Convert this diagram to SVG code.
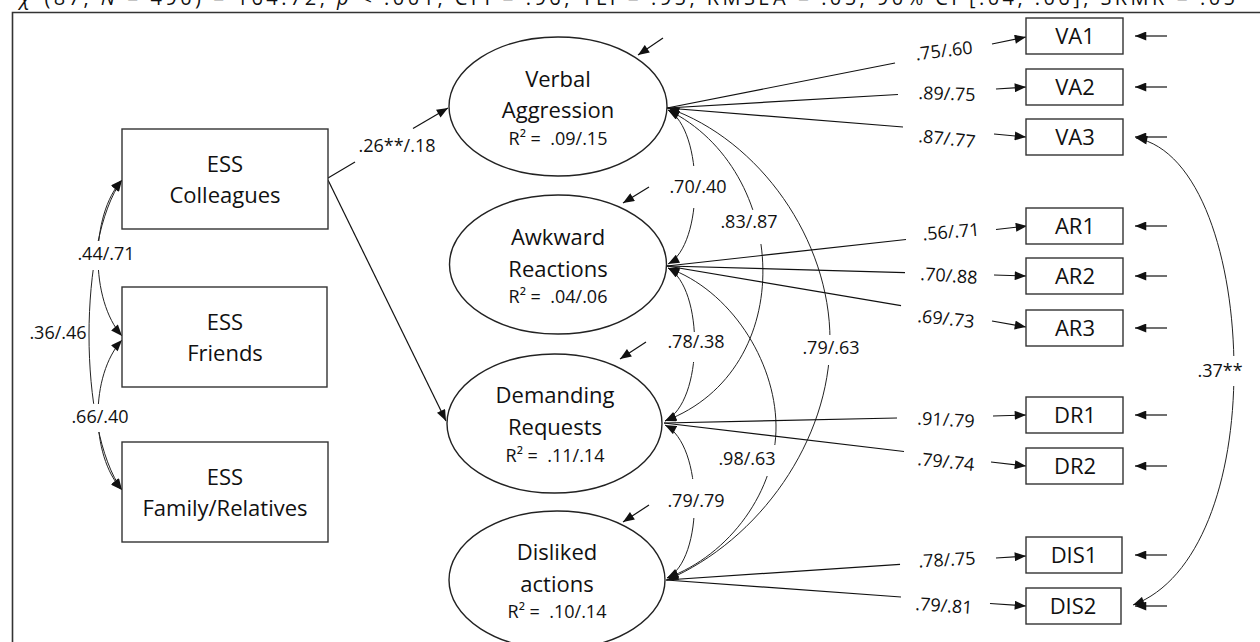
<svg xmlns="http://www.w3.org/2000/svg" width="1260" height="642" viewBox="0 0 1260 642">
<style>
text{font-family:"Open Sans","Liberation Sans",sans-serif;fill:#111;text-anchor:middle}
.big{font-size:22px}
.r2{font-size:18px}
.lab{font-size:18px}
.ind{font-size:22px}
.box{fill:#fff;stroke:#333;stroke-width:1.4}
.ell{fill:#fff;stroke:#222;stroke-width:1.4}
.ln{fill:none;stroke:#111;stroke-width:1.2}
.arr{fill:none;stroke:#111;stroke-width:1.2;marker-end:url(#ah)}
.cov{fill:none;stroke:#222;stroke-width:1;marker-start:url(#ah);marker-end:url(#ah)}
.gap{fill:#fff}
</style>
<defs>
<marker id="ah" viewBox="0 0 10 8" refX="10" refY="4" markerWidth="12" markerHeight="9" markerUnits="userSpaceOnUse" orient="auto-start-reverse">
<path d="M0,0 L10,4 L0,8 z" fill="#111"/>
</marker>
</defs>
<rect width="1260" height="642" fill="#fff"/>
<text x="20" y="5" font-size="20" style="text-anchor:start" textLength="1215" lengthAdjust="spacing"><tspan font-style="italic">χ</tspan><tspan font-size="13" dy="-7">2</tspan><tspan dy="7">(87, </tspan><tspan font-style="italic">N</tspan> = 490) = 164.72, <tspan font-style="italic">p</tspan> &lt; .001, CFI = .96, TLI = .95, RMSEA = .05, 90% CI [.04, .06], SRMR = .05</text>
<path d="M12.5,642 V12.5 H1260" fill="none" stroke="#333" stroke-width="1.6"/>

<g id="connectors">
<line class="ln" x1="328" y1="178" x2="355" y2="162"/>
<line class="arr" x1="413" y1="128.4" x2="448" y2="108"/>
<line class="arr" x1="328" y1="180" x2="446" y2="421"/>
<path class="cov" d="M122,180 C90,215 90,300 122,336"/>
<path class="cov" d="M122,340 C90,375 90,455 122,490"/>
<path class="cov" d="M122,180 C78,240 78,430 122,490"/>
<path class="cov" d="M668,110 C704,130 704,245 668,264"/>
<path class="cov" d="M668,268 C704,288 704,402 665,421"/>
<path class="cov" d="M665,425 C704,445 704,560 667,578"/>
<path class="cov" d="M668,110 C790,170 800,370 665,421"/>
<path class="cov" d="M668,268 C730,290 775,360 776,425 C777,490 730,555 667,578"/>
<path class="cov" d="M668,108 C760,140 830,240 830,340 C830,440 760,540 667,580"/>
<path class="cov" d="M1136,138 C1200,150 1234,260 1234,370 C1234,480 1200,580 1133,605"/>
<line class="arr" x1="663" y1="38" x2="638" y2="55"/>
<line class="arr" x1="649" y1="187" x2="623" y2="203"/>
<line class="arr" x1="646" y1="342" x2="620" y2="359"/>
<line class="arr" x1="649" y1="505" x2="623" y2="522"/>
<line class="ln" x1="667" y1="108" x2="895" y2="63"/><line class="arr" x1="992" y1="44" x2="1026" y2="37"/>
<line class="ln" x1="667" y1="108" x2="898" y2="94.5"/><line class="arr" x1="996" y1="89" x2="1026" y2="87"/>
<line class="ln" x1="667" y1="108" x2="903" y2="127"/><line class="arr" x1="994" y1="134" x2="1026" y2="137"/>
<line class="ln" x1="667" y1="266" x2="906" y2="239.5"/><line class="arr" x1="996" y1="229.5" x2="1027" y2="226"/>
<line class="ln" x1="667" y1="266" x2="905" y2="272.6"/><line class="arr" x1="994" y1="275" x2="1026" y2="276"/>
<line class="ln" x1="667" y1="266" x2="901" y2="305.6"/><line class="arr" x1="992" y1="321" x2="1026" y2="327"/>
<line class="ln" x1="664" y1="423" x2="897" y2="418"/><line class="arr" x1="993" y1="416" x2="1026" y2="415"/>
<line class="ln" x1="664" y1="423" x2="904" y2="451.5"/><line class="arr" x1="991" y1="462" x2="1026" y2="466"/>
<line class="ln" x1="666" y1="580" x2="900" y2="564.4"/><line class="arr" x1="996" y1="558" x2="1026" y2="556"/>
<line class="ln" x1="666" y1="580" x2="901" y2="597"/><line class="arr" x1="990" y1="603.5" x2="1026" y2="606"/>
<line class="arr" x1="1167" y1="36" x2="1135" y2="36"/>
<line class="arr" x1="1167" y1="87" x2="1135" y2="87"/>
<line class="arr" x1="1167" y1="137" x2="1135" y2="137"/>
<line class="arr" x1="1167" y1="226" x2="1135" y2="226"/>
<line class="arr" x1="1167" y1="276" x2="1135" y2="276"/>
<line class="arr" x1="1167" y1="328" x2="1135" y2="328"/>
<line class="arr" x1="1167" y1="415" x2="1135" y2="415"/>
<line class="arr" x1="1167" y1="466" x2="1135" y2="466"/>
<line class="arr" x1="1167" y1="555" x2="1135" y2="555"/>
<line class="arr" x1="1167" y1="606" x2="1135" y2="606"/>
</g>

<g id="labels">
<rect class="gap" x="76" y="241" width="62" height="29"/>
<rect class="gap" x="70" y="404" width="61" height="28"/>
<rect class="gap" x="671" y="166" width="56" height="42"/>
<rect class="gap" x="666" y="332" width="60" height="30"/>
<rect class="gap" x="666" y="479" width="60" height="39"/>
<rect class="gap" x="720" y="210" width="58" height="34"/>
<rect class="gap" x="718" y="445" width="60" height="31"/>
<rect class="gap" x="801" y="335" width="60" height="30"/>
<rect class="gap" x="1196" y="356" width="48" height="30"/>
<text class="lab" x="397" y="152">.26**/.18</text>
<text class="lab" x="106" y="260">.44/.71</text>
<text class="lab" x="58" y="339">.36/.46</text>
<text class="lab" x="100" y="423">.66/.40</text>
<text class="lab" x="698" y="193">.70/.40</text>
<text class="lab" x="696" y="348">.78/.38</text>
<text class="lab" x="696" y="507">.79/.79</text>
<text class="lab" x="749" y="228">.83/.87</text>
<text class="lab" x="747" y="465">.98/.63</text>
<text class="lab" x="831" y="354">.79/.63</text>
<text class="lab" x="1220" y="377">.37**</text>
<text class="lab" x="944" y="57" transform="rotate(-7 944 51)">.75/.60</text>
<text class="lab" x="947" y="100" transform="rotate(2 947 94)">.89/.75</text>
<text class="lab" x="947" y="145" transform="rotate(6 947 139)">.87/.77</text>
<text class="lab" x="951" y="238" transform="rotate(-5 951 232)">.56/.71</text>
<text class="lab" x="949" y="282" transform="rotate(4 949 276)">.70/.88</text>
<text class="lab" x="946" y="325" transform="rotate(6 946 319)">.69/.73</text>
<text class="lab" x="946" y="426" transform="rotate(3 946 420)">.91/.79</text>
<text class="lab" x="946" y="468" transform="rotate(6 946 462)">.79/.74</text>
<text class="lab" x="947" y="566" transform="rotate(-3 947 560)">.78/.75</text>
<text class="lab" x="944" y="612" transform="rotate(4 944 606)">.79/.81</text>
</g>

<g id="ESS_Colleagues"><rect class="box" x="122" y="129" width="206" height="100"/><text class="big" x="225" y="172">ESS</text><text class="big" x="225" y="203">Colleagues</text></g>
<g id="ESS_Friends"><rect class="box" x="122" y="287" width="205" height="100"/><text class="big" x="225" y="330">ESS</text><text class="big" x="225" y="361">Friends</text></g>
<g id="ESS_Family"><rect class="box" x="122" y="442" width="206" height="100"/><text class="big" x="225" y="485">ESS</text><text class="big" x="225" y="516">Family/Relatives</text></g>

<g id="Verbal_Aggression"><ellipse class="ell" cx="558" cy="106.5" rx="109" ry="69.5"/><text class="big" x="558" y="87">Verbal</text><text class="big" x="558" y="118">Aggression</text><text class="r2" x="558" y="145" xml:space="preserve">R² =  .09/.15</text></g>
<g id="Awkward_Reactions"><ellipse class="ell" cx="558" cy="264.5" rx="108.5" ry="69.5"/><text class="big" x="558" y="245">Awkward</text><text class="big" x="558" y="277">Reactions</text><text class="r2" x="558" y="303" xml:space="preserve">R² =  .04/.06</text></g>
<g id="Demanding_Requests"><ellipse class="ell" cx="554.5" cy="423.5" rx="107.5" ry="69.5"/><text class="big" x="555" y="403">Demanding</text><text class="big" x="555" y="435">Requests</text><text class="r2" x="555" y="462" xml:space="preserve">R² =  .11/.14</text></g>
<g id="Disliked_actions"><ellipse class="ell" cx="557" cy="580" rx="108" ry="69"/><text class="big" x="557" y="560">Disliked</text><text class="big" x="557" y="592">actions</text><text class="r2" x="557" y="618" xml:space="preserve">R² =  .10/.14</text></g>

<g id="VA1"><rect class="box" x="1026" y="18" width="97" height="36"/><text class="ind" x="1075" y="44">VA1</text></g>
<g id="VA2"><rect class="box" x="1026" y="69" width="97" height="36"/><text class="ind" x="1075" y="95">VA2</text></g>
<g id="VA3"><rect class="box" x="1026" y="119" width="97" height="36"/><text class="ind" x="1075" y="145">VA3</text></g>
<g id="AR1"><rect class="box" x="1026" y="208" width="97" height="36"/><text class="ind" x="1075" y="234">AR1</text></g>
<g id="AR2"><rect class="box" x="1026" y="258" width="97" height="36"/><text class="ind" x="1075" y="284">AR2</text></g>
<g id="AR3"><rect class="box" x="1026" y="310" width="97" height="36"/><text class="ind" x="1075" y="336">AR3</text></g>
<g id="DR1"><rect class="box" x="1026" y="397" width="97" height="36"/><text class="ind" x="1075" y="423">DR1</text></g>
<g id="DR2"><rect class="box" x="1026" y="448" width="97" height="36"/><text class="ind" x="1075" y="474">DR2</text></g>
<g id="DIS1"><rect class="box" x="1026" y="537" width="96" height="36"/><text class="ind" x="1074" y="563">DIS1</text></g>
<g id="DIS2"><rect class="box" x="1026" y="588" width="95" height="36"/><text class="ind" x="1073" y="614">DIS2</text></g>
</svg>
